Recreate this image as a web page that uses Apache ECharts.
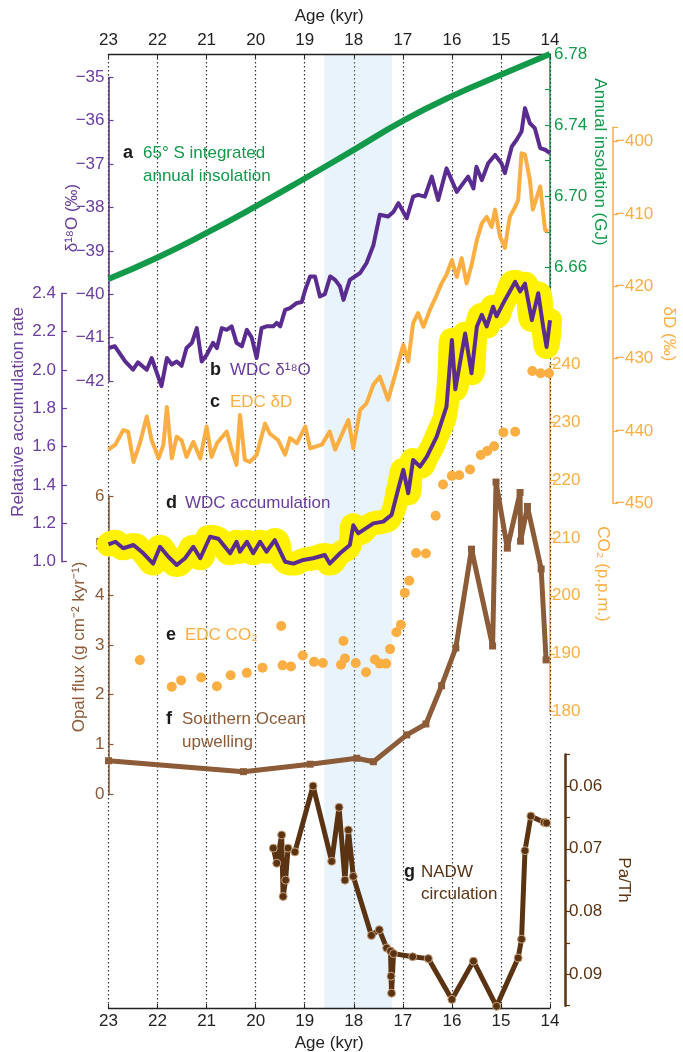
<!DOCTYPE html>
<html>
<head>
<meta charset="utf-8">
<script src="https://cdn.jsdelivr.net/npm/echarts@6/dist/echarts.min.js"></script>
<style>
  html, body { margin: 0; padding: 0; background: #fff; }
  #chart { width: 683px; height: 1052px; }
</style>
</head>
<body>
<div id="chart"></div>
<script>
// ---- data (age in kyr, value) ----
const bandAge = [18.6, 17.22];

const insolation = [[23, 6.6535], [22, 6.6656], [21, 6.6794], [20, 6.6943], [19, 6.7100],
  [18, 6.7261], [17, 6.7424], [16, 6.7563], [15, 6.7683], [14, 6.7800]];

const wdcD18O = [[23.0, -41.24], [22.87, -41.2], [22.66, -41.55], [22.5, -41.74], [22.4, -41.57],
  [22.22, -41.74], [22.12, -41.47], [21.92, -42.12], [21.81, -41.47], [21.71, -41.62],
  [21.61, -41.55], [21.51, -41.65], [21.41, -41.24], [21.3, -41.12], [21.2, -40.78],
  [21.1, -41.55], [21.0, -41.4], [20.87, -41.12], [20.79, -41.24], [20.69, -40.78],
  [20.59, -40.82], [20.49, -40.74], [20.39, -41.12], [20.28, -41.2], [20.18, -40.82],
  [20.08, -41.0], [19.98, -41.47], [19.88, -40.78], [19.78, -40.74], [19.64, -40.74],
  [19.57, -40.66], [19.5, -40.74], [19.4, -40.36], [19.3, -40.32], [19.16, -40.2],
  [19.06, -40.18], [18.99, -39.9], [18.89, -39.59], [18.79, -39.59], [18.69, -40.05],
  [18.59, -40.0], [18.48, -39.59], [18.38, -39.67], [18.28, -39.82], [18.21, -40.13],
  [18.08, -39.67], [17.87, -39.51], [17.74, -39.28], [17.6, -38.87], [17.47, -38.17],
  [17.3, -38.21], [17.19, -38.1], [17.09, -37.9], [16.92, -38.25], [16.79, -37.75],
  [16.69, -37.71], [16.55, -37.75], [16.41, -37.29], [16.28, -37.83], [16.11, -37.1],
  [15.9, -37.64], [15.67, -37.29], [15.56, -37.56], [15.5, -37.06], [15.39, -37.37],
  [15.26, -36.98], [15.12, -36.79], [14.99, -36.98], [14.92, -37.21], [14.78, -36.6],
  [14.68, -36.44], [14.58, -36.25], [14.51, -35.71], [14.41, -36.06], [14.31, -36.17],
  [14.2, -36.63], [14.1, -36.67], [14.0, -36.75]];

const edcDD = [[23.0, -442.6], [22.86, -441.9], [22.7, -439.9], [22.6, -440.1], [22.49, -444.3],
  [22.36, -441.7], [22.22, -438.0], [22.12, -441.3], [21.98, -443.8], [21.88, -441.9],
  [21.81, -436.7], [21.71, -443.8], [21.61, -440.8], [21.51, -441.3], [21.41, -443.6],
  [21.27, -441.5], [21.13, -443.8], [21.0, -439.4], [20.9, -443.6], [20.79, -441.7],
  [20.59, -440.1], [20.49, -442.6], [20.39, -444.7], [20.32, -437.8], [20.22, -444.0],
  [20.12, -444.3], [19.98, -443.3], [19.81, -439.0], [19.71, -440.4], [19.54, -441.3],
  [19.4, -443.3], [19.3, -441.0], [19.16, -441.7], [18.99, -439.4], [18.89, -442.4],
  [18.65, -441.9], [18.49, -440.1], [18.38, -442.6], [18.21, -440.0], [18.11, -438.5],
  [18.01, -442.4], [17.87, -437.1], [17.74, -436.2], [17.6, -433.6], [17.47, -432.5],
  [17.3, -435.7], [17.13, -431.6], [16.99, -428.1], [16.89, -430.4], [16.79, -425.1],
  [16.69, -423.7], [16.58, -425.6], [16.45, -423.3], [16.31, -421.2], [16.21, -419.6],
  [16.11, -418.4], [16.0, -416.4], [15.9, -418.7], [15.8, -416.1], [15.7, -419.6],
  [15.6, -417.1], [15.49, -413.6], [15.39, -411.3], [15.29, -410.4], [15.19, -411.8],
  [15.12, -409.4], [15.02, -413.1], [14.92, -414.7], [14.82, -410.4], [14.71, -409.0],
  [14.65, -408.1], [14.58, -401.6], [14.51, -401.8], [14.41, -405.3], [14.35, -409.4],
  [14.2, -406.2], [14.1, -412.2], [14.04, -412.4]];

const wdcAccum = [[23.0, 1.09], [22.86, 1.104], [22.7, 1.07], [22.49, 1.087], [22.29, 1.044],
  [22.09, 0.99], [21.95, 1.078], [21.78, 1.026], [21.61, 0.983], [21.44, 1.018],
  [21.27, 1.078], [21.13, 1.018], [20.93, 1.13], [20.76, 1.12], [20.52, 1.044],
  [20.39, 1.104], [20.32, 1.052], [20.18, 1.104], [20.05, 1.044], [19.91, 1.104],
  [19.78, 1.052], [19.61, 1.113], [19.4, 1.0], [19.23, 0.99], [19.03, 1.009],
  [18.83, 1.018], [18.59, 1.035], [18.49, 0.99], [18.28, 1.044], [18.08, 1.087],
  [18.01, 1.19], [17.91, 1.148], [17.6, 1.2], [17.4, 1.209], [17.23, 1.244],
  [17.09, 1.383], [16.99, 1.479], [16.89, 1.357], [16.79, 1.531], [16.65, 1.496],
  [16.51, 1.548], [16.31, 1.652], [16.11, 1.809], [16.0, 2.157], [15.93, 1.9],
  [15.73, 2.19], [15.6, 1.983], [15.49, 2.227], [15.39, 2.288], [15.29, 2.227],
  [15.16, 2.33], [15.09, 2.28], [14.95, 2.35], [14.71, 2.46], [14.61, 2.41],
  [14.51, 2.45], [14.37, 2.26], [14.24, 2.4], [14.14, 2.227], [14.07, 2.12], [14.0, 2.26]];

const edcCO2 = [[22.36, 188.9], [21.71, 184.3], [21.52, 185.4], [21.11, 185.9], [20.79, 184.4],
  [20.51, 186.3], [20.18, 186.7], [19.86, 187.6], [19.48, 194.8], [19.45, 188.0],
  [19.28, 187.8], [19.04, 189.7], [18.81, 188.6], [18.63, 188.4], [18.26, 188.1],
  [18.21, 192.2], [18.18, 189.2], [17.96, 188.4], [17.75, 186.8], [17.57, 189.0],
  [17.47, 188.3], [17.34, 188.3], [17.26, 190.8], [17.13, 193.7], [17.04, 195.0],
  [16.96, 200.5], [16.87, 202.6], [16.73, 207.4], [16.53, 207.3], [16.33, 213.8],
  [16.18, 219.2], [16.0, 220.7], [15.85, 220.8], [15.63, 221.8], [15.41, 224.3],
  [15.28, 225.0], [15.14, 225.8], [14.95, 228.2], [14.71, 228.3], [14.36, 238.8],
  [14.19, 238.4], [14.02, 238.4]];

const opalFlux = [[23.0, 0.67], [20.25, 0.45], [18.89, 0.6], [17.94, 0.72], [17.6, 0.65],
  [16.92, 1.19], [16.53, 1.41], [16.21, 2.18], [15.92, 2.94], [15.6, 4.93],
  [15.17, 2.98], [15.1, 6.28], [14.87, 4.95], [14.61, 6.07], [14.6, 5.09],
  [14.46, 5.79], [14.18, 4.53], [14.08, 2.7]];

const paTh = [[19.64, 0.0699], [19.57, 0.0723], [19.47, 0.0678], [19.44, 0.0776], [19.39, 0.075],
  [19.34, 0.0699], [19.2, 0.0705], [18.83, 0.060], [18.45, 0.072], [18.3, 0.0634],
  [18.18, 0.075], [18.11, 0.067], [18.01, 0.0744], [17.64, 0.0838], [17.48, 0.0829],
  [17.33, 0.0858], [17.25, 0.0863], [17.24, 0.0903], [17.23, 0.093], [17.19, 0.0867],
  [16.8, 0.0872], [16.48, 0.0875], [16.0, 0.094], [15.56, 0.0879], [15.09, 0.0951],
  [14.65, 0.0874], [14.58, 0.0844], [14.51, 0.0703], [14.39, 0.0648], [14.12, 0.0658],
  [14.07, 0.0659]];

// ---- styles ----
const FONT = '"Liberation Sans", Arial, sans-serif';
const GREEN = '#12994a';
const PURPLE = '#5b2c90';
const PURPLE_TXT = '#6a3d9d';
const ORANGE = '#fbae42';
const BROWN = '#8c5b37';
const DARK = '#5a3312';
const YELLOW = '#fff200';

const H = 1052;
const minus = s => String(s).replace('-', '\u2212');

function grid(top, bottom) {
  return { left: 108.5, right: 133, top: top, bottom: H - bottom, containLabel: false, outerBoundsMode: 'none' };
}
function hiddenX(i) {
  return { type: 'value', gridIndex: i, min: 14, max: 23, inverse: true, show: false };
}
function yAx(i, o) {
  return Object.assign({
    type: 'value', gridIndex: i,
    splitLine: { show: false },
    axisLine: { show: true, lineStyle: { color: o.color, width: 1.5 } },
    axisTick: { show: true, inside: o.inside, length: 5, lineStyle: { color: o.color, width: 1.2 } },
    axisLabel: { color: o.color, fontSize: 17, fontFamily: FONT, margin: o.margin || 4, formatter: o.fmt }
  }, o.ax);
}

const chart = echarts.init(document.getElementById('chart'));

const topBottomX = (pos) => ({
  type: 'value', gridIndex: 0, position: pos, min: 14, max: 23, interval: 1, inverse: true, z: 1,
  axisLine: { show: true, onZero: false, lineStyle: { color: '#222', width: 1.3 } },
  axisTick: { show: true, inside: true, length: 4, lineStyle: { color: '#222' } },
  axisLabel: { color: '#222', fontSize: 17, fontFamily: FONT, margin: 5 },
  splitLine: pos === 'top'
    ? { show: true, lineStyle: { color: '#333', type: [1.5, 2.5], width: 1.2 } }
    : { show: false },
  name: 'Age (kyr)', nameLocation: 'middle', nameGap: pos === 'top' ? 29 : 27,
  nameTextStyle: { color: '#222', fontSize: 17, fontFamily: FONT }
});

const txt = (text, x, y, color, opt) => Object.assign({
  type: 'text', x: x, y: y, z: 50,
  style: Object.assign({
    text: text, fill: color, font: '17px ' + FONT,
    align: 'left', verticalAlign: 'middle', textAlign: 'left', textVerticalAlign: 'middle'
  }, (opt && opt.style) || {})
}, (opt && opt.el) || {});
const bold = (t, x, y) => txt(t, x, y, '#1a1a1a', { style: { font: 'bold 18px ' + FONT } });
const vtxt = (text, x, y, color, rot) => ({
  type: 'text', x: x, y: y, rotation: rot, z: 50,
  style: { text: text, fill: color, font: '17px ' + FONT,
    align: 'center', verticalAlign: 'middle', textAlign: 'center', textVerticalAlign: 'middle' }
});
const UP = Math.PI / 2, DOWN = -Math.PI / 2;

const option = {
  animation: false,
  backgroundColor: '#fff',
  grid: [
    grid(54, 1008),        // 0 frame
    grid(54, 303),         // 1 insolation
    grid(77.3, 381),       // 2 d18O
    grid(127.2, 503.2),    // 3 dD
    grid(293.3, 561.7),    // 4 accumulation
    grid(364, 711.7),      // 5 CO2
    grid(496, 794),        // 6 opal
    grid(754.6, 1005.7)    // 7 Pa/Th
  ],
  xAxis: [topBottomX('top'), topBottomX('bottom'),
    hiddenX(1), hiddenX(2), hiddenX(3), hiddenX(4), hiddenX(5), hiddenX(6), hiddenX(7)],
  yAxis: [
    { type: 'value', gridIndex: 0, min: 0, max: 1, show: false },
    yAx(1, { color: GREEN, inside: true,
      fmt: v => { const k = Math.round(v * 100); return (k - 666) % 4 === 0 ? v.toFixed(2) : ''; },
      ax: { position: 'right', min: 6.64, max: 6.78, interval: 0.02 } }),
    yAx(2, { color: PURPLE_TXT, inside: true, fmt: v => minus(v),
      ax: { position: 'left', min: -42, max: -35, interval: 1, axisLine: { show: true, lineStyle: { color: PURPLE, width: 1.5 } } } }),
    yAx(3, { color: ORANGE, inside: false, margin: 2,
      fmt: v => (Math.round(v) % 10 === 0 ? minus(Math.round(v)) : ''),
      ax: { position: 'right', offset: 63, min: -450, max: -398, interval: 10 } }),
    yAx(4, { color: PURPLE_TXT, inside: true, margin: 6, fmt: v => v.toFixed(1),
      ax: { position: 'left', offset: 46.5, min: 1.0, max: 2.4, interval: 0.2, axisLine: { show: true, lineStyle: { color: PURPLE, width: 1.5 } } } }),
    yAx(5, { color: ORANGE, inside: false, margin: 2, fmt: v => String(v),
      ax: { position: 'right', min: 180, max: 240, interval: 10 } }),
    yAx(6, { color: BROWN, inside: true, fmt: v => String(v),
      ax: { position: 'left', min: 0, max: 6, interval: 1 } }),
    yAx(7, { color: DARK, inside: false, margin: 4,
      fmt: v => { const k = Math.round(v * 1000); return k % 10 === 0 ? (k / 1000).toFixed(2) : ''; },
      ax: { position: 'right', offset: 15, min: 0.055, max: 0.095, interval: 0.005, inverse: true,
        axisLine: { show: true, lineStyle: { color: DARK, width: 2.5 } } } })
  ],
  series: [
    // shaded interval, translucent so the yellow glow shows through tinted
    {
      type: 'line', xAxisIndex: 0, yAxisIndex: 0, z: 3, silent: true,
      data: [[23, 0.5], [14, 0.5]], showSymbol: false, lineStyle: { opacity: 0 },
      markArea: { silent: true, itemStyle: { color: 'rgba(170,210,240,0.27)' },
        data: [[{ xAxis: bandAge[0] }, { xAxis: bandAge[1] }]] }
    },
    { name: 'glow', type: 'line', xAxisIndex: 5, yAxisIndex: 4, z: 2, data: wdcAccum, smooth: 0.6,
      showSymbol: false, clip: false, lineStyle: { color: YELLOW, width: 24, cap: 'round', join: 'round' } },
    { name: 'insolation', type: 'line', xAxisIndex: 2, yAxisIndex: 1, z: 4, data: insolation, smooth: true,
      showSymbol: false, clip: false, lineStyle: { color: GREEN, width: 6 } },
    { name: 'd18O', type: 'line', xAxisIndex: 3, yAxisIndex: 2, z: 4, data: wdcD18O,
      showSymbol: false, clip: false, lineStyle: { color: PURPLE, width: 4, join: 'round' } },
    { name: 'dD', type: 'line', xAxisIndex: 4, yAxisIndex: 3, z: 4, data: edcDD,
      showSymbol: false, clip: false, lineStyle: { color: ORANGE, width: 4, join: 'round' } },
    { name: 'accum', type: 'line', xAxisIndex: 5, yAxisIndex: 4, z: 5, data: wdcAccum,
      showSymbol: false, clip: false, lineStyle: { color: PURPLE, width: 4, join: 'round' } },
    { name: 'co2', type: 'scatter', xAxisIndex: 6, yAxisIndex: 5, z: 4, data: edcCO2,
      symbolSize: 10, clip: false, itemStyle: { color: ORANGE, opacity: 1 } },
    { name: 'opal', type: 'line', xAxisIndex: 7, yAxisIndex: 6, z: 4, data: opalFlux,
      symbol: 'rect', symbolSize: 7, showSymbol: true, clip: false,
      lineStyle: { color: BROWN, width: 5 }, itemStyle: { color: BROWN } },
    { name: 'paTh', type: 'line', xAxisIndex: 8, yAxisIndex: 7, z: 4, data: paTh,
      symbol: 'circle', symbolSize: 8, showSymbol: true, clip: false,
      lineStyle: { color: DARK, width: 5 },
      itemStyle: { color: DARK, borderColor: '#c8a27c', borderWidth: 1 } }
  ],
  graphic: [
    bold('a', 123, 153), txt('65° S integrated', 143, 153, GREEN), txt('annual insolation', 143, 176, GREEN),
    bold('b', 210, 370), txt('WDC δ¹⁸O', 230, 370, PURPLE_TXT),
    bold('c', 210, 402), txt('EDC δD', 230, 402, ORANGE),
    bold('d', 166, 503), txt('WDC accumulation', 185, 503, PURPLE_TXT),
    bold('e', 166, 635), txt('EDC CO₂', 185, 635, ORANGE),
    bold('f', 166, 719), txt('Southern Ocean', 182, 719, BROWN), txt('upwelling', 182, 742, BROWN),
    bold('g', 404, 872), txt('NADW', 421, 872, DARK), txt('circulation', 421, 894, DARK),
    vtxt('δ¹⁸O (‰)', 72, 218, PURPLE_TXT, UP),
    vtxt('Relataive accumulation rate', 18, 412, PURPLE_TXT, UP),
    vtxt('Opal flux (g cm⁻² kyr⁻¹)', 79, 647, BROWN, UP),
    vtxt('Annual insolation (GJ)', 600, 162, GREEN, DOWN),
    vtxt('δD (‰)', 669, 334, ORANGE, DOWN),
    vtxt('CO₂ (p.p.m.)', 603, 574, ORANGE, DOWN),
    vtxt('Pa/Th', 624, 880, DARK, DOWN)
  ]
};

chart.setOption(option);
</script>
</body>
</html>
